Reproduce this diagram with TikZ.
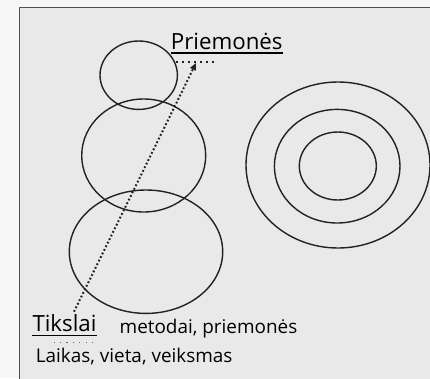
\documentclass[tikz,border=0pt]{standalone}
\usepackage{fontspec}
\setmainfont{Open Sans}
\usetikzlibrary{shapes.geometric,calc,arrows.meta}
\definecolor{outbg}{HTML}{F7F7F7}
\definecolor{inbg}{HTML}{E9E9E9}
\definecolor{frame}{HTML}{505050}
\definecolor{ink}{HTML}{222222}
\tikzset{
  ring/.style={draw=ink, line width=1.4pt, ellipse, inner sep=0pt, fill=none},
  lbl/.style={anchor=base west, inner sep=0pt, text=black},
  dots/.style={draw=ink, line width=2pt, dash pattern=on 1.8pt off 2.2pt},
  fdots/.style={draw=ink, line width=2pt, dash pattern=on 1.8pt off 4.2pt},
  sdots/.style={draw=ink!70, line width=1.3pt, dash pattern=on 1.3pt off 5.1pt},
}
\begin{document}
\begin{tikzpicture}[x=1pt,y=-1pt]
\useasboundingbox (0,0) rectangle (430,378);
\fill[outbg] (0,0) rectangle (430,378);
\draw[frame, line width=1.3pt, fill=inbg] (19.5,7.5) rectangle (432,380);
% stacked ellipses
\node[ring, minimum width=77.4pt, minimum height=68.4pt] (top) at (138.7,75.2) {};
\node[ring, minimum width=124pt, minimum height=113pt] (mid) at (143.7,155.5) {};
\node[ring, minimum width=153.4pt, minimum height=123.4pt] (bot) at (146,251.7) {};
% concentric ellipses
\node[ring, minimum width=184pt, minimum height=166pt] (c1) at (338,165) {};
\node[ring, minimum width=125.6pt, minimum height=113.6pt] (c2) at (337.2,166.2) {};
\node[ring, minimum width=77pt, minimum height=68pt] (c3) at (337.8,166) {};
% labels
\node[lbl, font=\fontsize{22.3}{26}\selectfont] (pr) at (170.7,49.5) {Priemonės};
\draw[black, line width=1.2pt] ($(pr.base west)+(0,3.5)$) -- ($(pr.base east)+(0,3.5)$);
\node[lbl, font=\fontsize{22.3}{26}\selectfont] (ti) at (32.3,331.7) {Tikslai};
\draw[black, line width=1.2pt] ($(ti.base west)+(0,3.5)$) -- ($(ti.base east)+(0,3.5)$);
\node[lbl, font=\fontsize{18.9}{22}\selectfont] (me) at (119.5,333) {metodai, priemonės};
\node[lbl, font=\fontsize{18.9}{22}\selectfont] (la) at (35.7,362) {Laikas, vieta, veiksmas};
% dotted marks
\coordinate (pa) at (176,61.7);
\coordinate (pb) at (216,61.7);
\draw[fdots] (pa) -- (pb);
\coordinate (ta) at (53.5,342.3);
\coordinate (tb) at (93,342.3);
\draw[sdots] (ta) -- (tb);
% dotted arrow
\coordinate (as) at (74,311.7);
\coordinate (ae) at (196,63);
\draw[dots, -{Triangle[length=7pt,width=6pt]}] (as) -- (ae);
\end{tikzpicture}
\end{document}
